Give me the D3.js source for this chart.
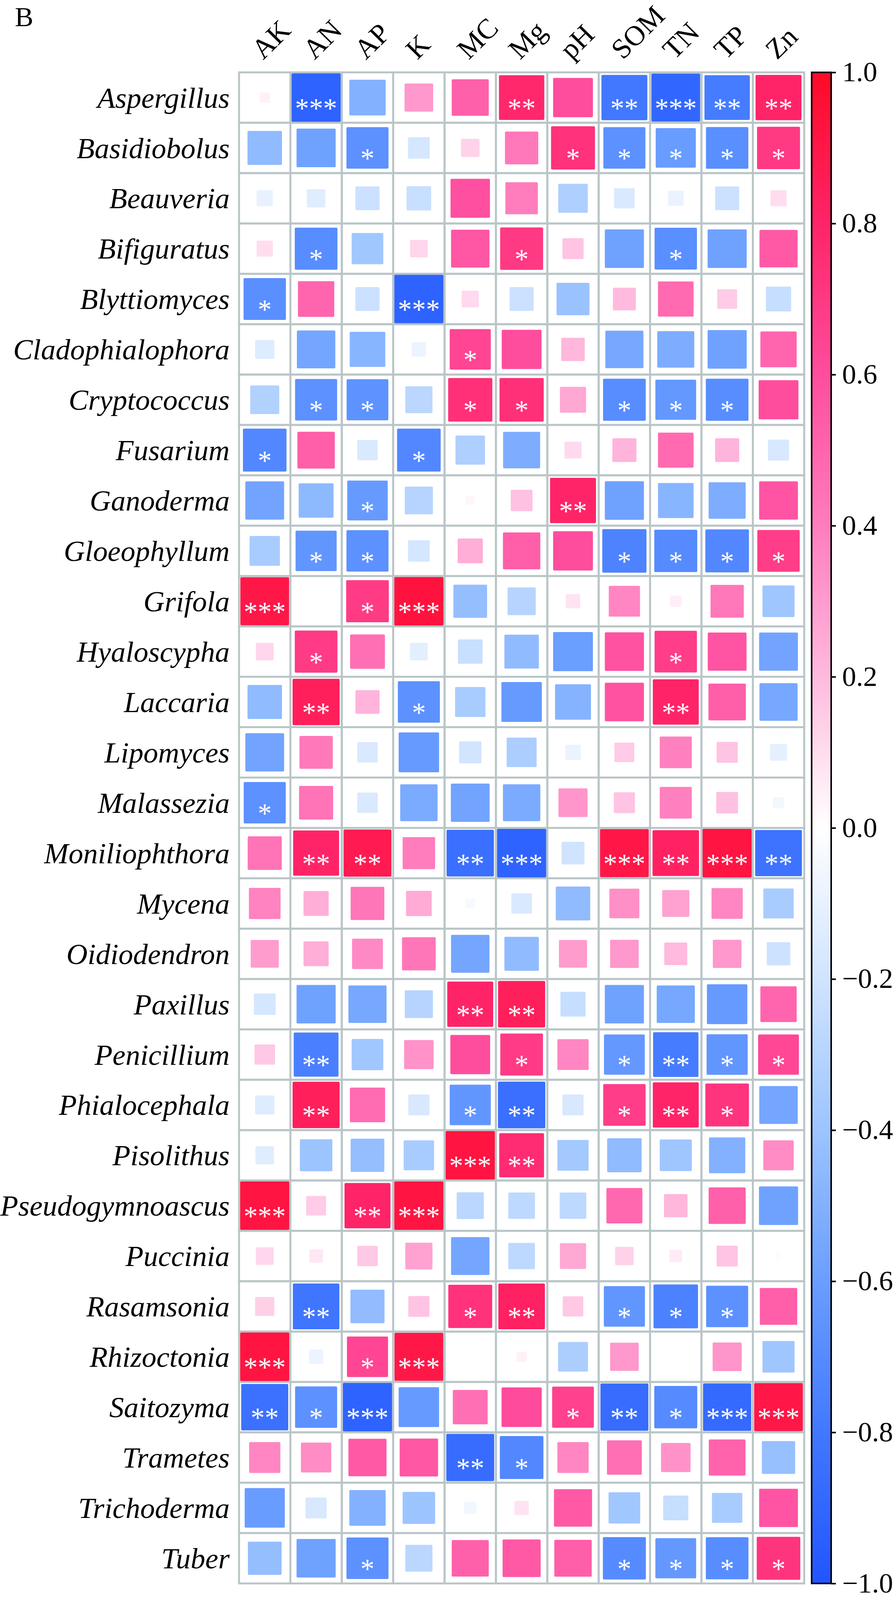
<!doctype html>
<html lang="en">
<head>
<meta charset="UTF-8">
<title>Genus - soil factor correlation</title>
<style>
  html, body { margin: 0; padding: 0; background: #fff; overflow: hidden; }
  #chart { width: 100vw; height: 100vh; }
  #chart svg { display: block; }
  text { font-family: "Liberation Serif", "Times New Roman", serif; }
</style>
</head>
<body>
<div id="chart"></div>
<script src="https://d3js.org/d3.v7.min.js"></script>
<script>
const factors = ['AK', 'AN', 'AP', 'K', 'MC', 'Mg', 'pH', 'SOM', 'TN', 'TP', 'Zn']

const genera = [
  'Aspergillus', 'Basidiobolus', 'Beauveria', 'Bifiguratus', 'Blyttiomyces',
  'Cladophialophora', 'Cryptococcus', 'Fusarium', 'Ganoderma', 'Gloeophyllum',
  'Grifola', 'Hyaloscypha', 'Laccaria', 'Lipomyces', 'Malassezia',
  'Moniliophthora', 'Mycena', 'Oidiodendron', 'Paxillus', 'Penicillium',
  'Phialocephala', 'Pisolithus', 'Pseudogymnoascus', 'Puccinia', 'Rasamsonia',
  'Rhizoctonia', 'Saitozyma', 'Trametes', 'Trichoderma', 'Tuber'
]

// correlation coefficients, one row per genus, columns in factor order
const corr = [
  [0.04, -0.92, -0.50, 0.31, 0.52, 0.78, 0.60, -0.80, -0.90, -0.78, 0.80],
  [-0.45, -0.58, -0.67, -0.18, 0.13, 0.42, 0.73, -0.67, -0.61, -0.68, 0.70],
  [-0.10, -0.13, -0.22, -0.23, 0.59, 0.40, -0.33, -0.16, -0.09, -0.22, 0.10],
  [0.10, -0.69, -0.38, 0.12, 0.56, 0.70, 0.17, -0.58, -0.68, -0.58, 0.55],
  [-0.68, 0.50, -0.22, -0.92, 0.11, -0.22, -0.41, 0.20, 0.48, 0.15, -0.24],
  [-0.14, -0.56, -0.48, -0.08, 0.64, 0.60, 0.21, -0.55, -0.52, -0.58, 0.50],
  [-0.32, -0.67, -0.66, -0.28, 0.74, 0.74, 0.26, -0.69, -0.63, -0.69, 0.60],
  [-0.72, 0.53, -0.16, -0.72, -0.33, -0.52, 0.11, 0.22, 0.48, 0.22, -0.17],
  [-0.57, -0.46, -0.62, -0.30, 0.03, 0.18, 0.80, -0.58, -0.48, -0.52, 0.57],
  [-0.35, -0.64, -0.67, -0.18, 0.24, 0.53, 0.60, -0.74, -0.70, -0.72, 0.68],
  [0.90, 0.00, 0.69, 0.93, -0.43, -0.30, 0.08, 0.37, 0.05, 0.42, -0.39],
  [0.12, 0.69, 0.46, -0.12, -0.23, -0.45, -0.60, 0.58, 0.68, 0.57, -0.57],
  [-0.45, 0.84, 0.22, -0.67, -0.35, -0.62, -0.49, 0.58, 0.80, 0.53, -0.55],
  [-0.57, 0.42, -0.16, -0.62, -0.19, -0.34, -0.09, 0.15, 0.39, 0.17, -0.11],
  [-0.67, 0.44, -0.16, -0.53, -0.57, -0.53, 0.32, 0.17, 0.39, 0.18, -0.05],
  [0.44, 0.80, 0.87, 0.40, -0.85, -0.92, -0.20, 0.90, 0.82, 0.92, -0.83],
  [0.38, 0.24, 0.43, 0.25, -0.04, -0.16, -0.45, 0.34, 0.28, 0.37, -0.35],
  [0.30, 0.24, 0.36, 0.43, -0.56, -0.45, 0.30, 0.31, 0.20, 0.31, -0.21],
  [-0.18, -0.58, -0.55, -0.30, 0.80, 0.84, -0.24, -0.58, -0.55, -0.62, 0.50],
  [0.16, -0.76, -0.38, 0.33, 0.60, 0.69, 0.37, -0.63, -0.78, -0.64, 0.63],
  [-0.14, 0.84, 0.47, -0.17, -0.64, -0.85, -0.17, 0.68, 0.80, 0.72, -0.56],
  [-0.13, -0.40, -0.43, -0.35, 0.92, 0.76, -0.37, -0.45, -0.39, -0.50, 0.35],
  [0.92, 0.15, 0.80, 0.92, -0.28, -0.27, -0.27, 0.49, 0.21, 0.52, -0.58],
  [0.12, 0.07, 0.16, 0.28, -0.56, -0.27, 0.26, 0.13, 0.06, 0.17, -0.02],
  [0.14, -0.82, -0.44, 0.17, 0.73, 0.82, 0.16, -0.64, -0.75, -0.67, 0.53],
  [0.92, -0.08, 0.64, 0.90, 0.00, 0.04, -0.34, 0.31, 0.00, 0.32, -0.39],
  [-0.84, -0.67, -0.92, -0.62, 0.46, 0.61, 0.66, -0.87, -0.70, -0.88, 0.90],
  [0.37, 0.35, 0.55, 0.56, -0.87, -0.72, 0.37, 0.46, 0.33, 0.51, -0.42],
  [-0.61, -0.17, -0.50, -0.40, -0.06, 0.08, 0.55, -0.38, -0.24, -0.35, 0.57],
  [-0.43, -0.58, -0.67, -0.28, 0.52, 0.55, 0.53, -0.70, -0.63, -0.69, 0.72]
]

// significance marks, same layout as corr
const stars = [
  ['', '***', '', '', '', '**', '', '**', '***', '**', '**'],
  ['', '', '*', '', '', '', '*', '*', '*', '*', '*'],
  ['', '', '', '', '', '', '', '', '', '', ''],
  ['', '*', '', '', '', '*', '', '', '*', '', ''],
  ['*', '', '', '***', '', '', '', '', '', '', ''],
  ['', '', '', '', '*', '', '', '', '', '', ''],
  ['', '*', '*', '', '*', '*', '', '*', '*', '*', ''],
  ['*', '', '', '*', '', '', '', '', '', '', ''],
  ['', '', '*', '', '', '', '**', '', '', '', ''],
  ['', '*', '*', '', '', '', '', '*', '*', '*', '*'],
  ['***', '', '*', '***', '', '', '', '', '', '', ''],
  ['', '*', '', '', '', '', '', '', '*', '', ''],
  ['', '**', '', '*', '', '', '', '', '**', '', ''],
  ['', '', '', '', '', '', '', '', '', '', ''],
  ['*', '', '', '', '', '', '', '', '', '', ''],
  ['', '**', '**', '', '**', '***', '', '***', '**', '***', '**'],
  ['', '', '', '', '', '', '', '', '', '', ''],
  ['', '', '', '', '', '', '', '', '', '', ''],
  ['', '', '', '', '**', '**', '', '', '', '', ''],
  ['', '**', '', '', '', '*', '', '*', '**', '*', '*'],
  ['', '**', '', '', '*', '**', '', '*', '**', '*', ''],
  ['', '', '', '', '***', '**', '', '', '', '', ''],
  ['***', '', '**', '***', '', '', '', '', '', '', ''],
  ['', '', '', '', '', '', '', '', '', '', ''],
  ['', '**', '', '', '*', '**', '', '*', '*', '*', ''],
  ['***', '', '*', '***', '', '', '', '', '', '', ''],
  ['**', '*', '***', '', '', '', '*', '**', '*', '***', '***'],
  ['', '', '', '', '**', '*', '', '', '', '', ''],
  ['', '', '', '', '', '', '', '', '', '', ''],
  ['', '', '*', '', '', '', '', '*', '*', '*', '*']
]

const colorTicks = [-1, -0.8, -0.6, -0.4, -0.2, 0, 0.2, 0.4, 0.6, 0.8, 1]
const colorStops = ['#2255ff', '#4278ff', '#6a9eff', '#9cc4ff', '#d0e4ff', '#ffffff',
  '#ffbade', '#ff7dbd', '#ff4d9e', '#ff2468', '#ff0a28']

const width = 2294
const height = 4157
const grid = { left: 612, right: 2059, top: 188, bottom: 4114 }

// drawn in the 2294x4157 frame, stretched to whatever the window gives
const svg = d3.select('#chart')
  .append('svg')
  .attr('viewBox', `0 0 ${width} ${height}`)
  .attr('preserveAspectRatio', 'none')
  .attr('width', '100%')
  .attr('height', '100%')

svg.append('rect').attr('width', width).attr('height', height).attr('fill', '#fff')

const x = d3.scaleBand().domain(factors).range([grid.left, grid.right])
const y = d3.scaleBand().domain(genera).range([grid.top, grid.bottom])
const color = d3.scaleLinear().domain(colorTicks).range(colorStops).clamp(true)

const cells = []
genera.forEach((g, i) => {
  factors.forEach((f, j) => {
    cells.push({ genus: g, factor: f, r: corr[i][j], sig: stars[i][j] })
  })
})

// cell frames
svg.append('g')
  .selectAll('rect')
  .data(cells)
  .join('rect')
  .attr('x', d => x(d.factor))
  .attr('y', d => y(d.genus))
  .attr('width', x.bandwidth())
  .attr('height', y.bandwidth())
  .attr('fill', 'none')
  .attr('stroke', '#b9c5c7')
  .attr('stroke-width', 5)

// squares, area proportional to |r|
const side = d => Math.min(Math.sqrt(Math.abs(d.r)) * x.bandwidth(), y.bandwidth() - 5)
svg.append('g')
  .selectAll('rect')
  .data(cells.filter(d => Math.abs(d.r) > 0.005))
  .join('rect')
  .attr('x', d => x(d.factor) + (x.bandwidth() - side(d)) / 2)
  .attr('y', d => y(d.genus) + (y.bandwidth() - side(d)) / 2)
  .attr('width', side)
  .attr('height', side)
  .attr('rx', 3)
  .attr('fill', d => color(d.r))

// significance stars
svg.append('g')
  .selectAll('text')
  .data(cells.filter(d => d.sig))
  .join('text')
  .attr('x', d => x(d.factor) + x.bandwidth() / 2)
  .attr('y', d => y(d.genus) + 117)
  .attr('text-anchor', 'middle')
  .attr('fill', '#fff')
  .style('font-size', '72px')
  .text(d => d.sig)

// row labels
svg.append('g')
  .selectAll('text')
  .data(genera)
  .join('text')
  .attr('x', grid.left - 24)
  .attr('y', d => y(d) + y.bandwidth() / 2)
  .attr('dy', '0.35em')
  .attr('text-anchor', 'end')
  .style('font-size', '75px')
  .style('font-style', 'italic')
  .text(d => d)

// column labels
svg.append('g')
  .selectAll('text')
  .data(factors)
  .join('text')
  .attr('transform', d => `translate(${x(d) + x.bandwidth() / 2 - 4}, 157) rotate(-45)`)
  .attr('text-anchor', 'start')
  .style('font-size', '73px')
  .text(d => d)

svg.append('text')
  .attr('x', 38)
  .attr('y', 68)
  .style('font-size', '71px')
  .text('B')

// colour bar
const bar = { x: 2078, w: 50, top: 188, bottom: 4114 }
const cy = d3.scaleLinear().domain([-1, 1]).range([bar.bottom, bar.top])

const grad = svg.append('defs').append('linearGradient')
  .attr('id', 'cbar')
  .attr('x1', 0).attr('y1', 1).attr('x2', 0).attr('y2', 0)
grad.selectAll('stop')
  .data(colorTicks)
  .join('stop')
  .attr('offset', d => (d + 1) / 2)
  .attr('stop-color', d => color(d))

svg.append('rect')
  .attr('x', bar.x)
  .attr('y', bar.top)
  .attr('width', bar.w)
  .attr('height', bar.bottom - bar.top)
  .attr('fill', 'url(#cbar)')
  .attr('stroke', '#000')
  .attr('stroke-width', 4)

const cAxis = d3.axisRight(cy)
  .tickValues(colorTicks)
  .tickFormat(d3.format('.1f'))
  .tickSize(12)
  .tickPadding(16)

const axisG = svg.append('g')
  .attr('transform', `translate(${bar.x + bar.w}, 0)`)
  .call(cAxis)
axisG.select('.domain').remove()
axisG.selectAll('line').attr('stroke', '#000').attr('stroke-width', 4)
axisG.selectAll('text')
  .attr('fill', '#000')
  .style('font-size', '72px')
  .style('font-family', '"Liberation Serif", "Times New Roman", serif')
</script>
</body>
</html>
